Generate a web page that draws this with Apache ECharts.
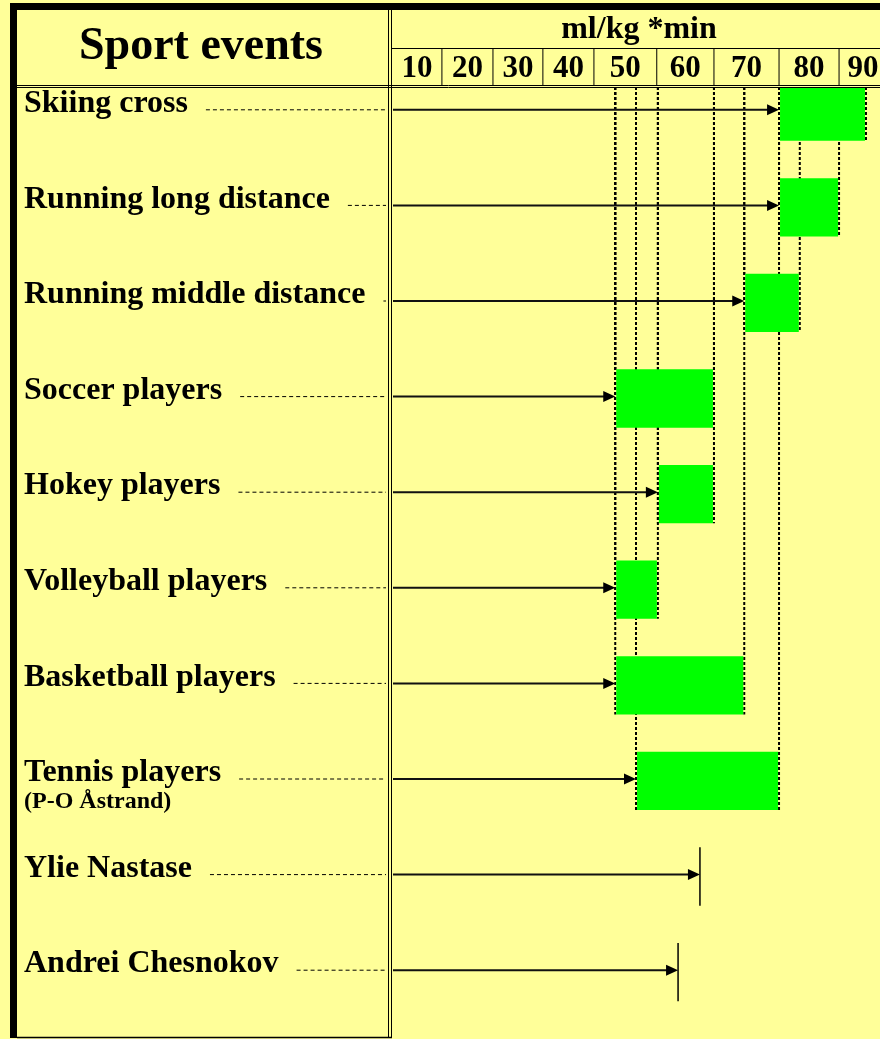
<!DOCTYPE html>
<html>
<head>
<meta charset="utf-8">
<title>Sport events</title>
<script src="https://cdn.jsdelivr.net/npm/echarts@6/dist/echarts.min.js"></script>
<style>
    html, body { margin: 0; padding: 0; background: #ffff99; }
    #main { width: 880px; height: 1039px; }
</style>
</head>
<body>
<div id="main"></div>
<script>
// rows, top to bottom
const events = ['Skiing cross', 'Running long distance', 'Running middle distance', 'Soccer players',
    'Hokey players', 'Volleyball players', 'Basketball players', 'Tennis players', 'Ylie Nastase', 'Andrei Chesnokov'];
// ml/kg*min, start and end of each range (one person: start == end)
const lowValues = [76.0, 76.0, 69.8, 46.8, 54.4, 46.8, 46.8, 50.5, 61.9, 58.0];
const highValues = [91.5, 86.7, 79.7, 64.4, 64.4, 54.4, 69.8, 76.0, 61.9, 58.0];
// header scale: cell labels and the cell borders as drawn
const tickLabels = ['10', '20', '30', '40', '50', '60', '70', '80', '90'];
const cellEdges = [7, 15.9, 25.0, 33.9, 43.0, 54.2, 64.4, 76.0, 86.7, 95.2];

const columnTitle = 'Sport events';
const unitTitle = 'ml/kg *min';
const tennisNote = '(P-O Åstrand)';

window.addEventListener('load', function () {
    const chart = echarts.init(document.getElementById('main'));

    const labelMargin = 368;
    const ctx = document.createElement('canvas').getContext('2d');
    ctx.font = 'bold 32px "Liberation Serif"';
    const labelWidths = events.map(name => ctx.measureText(name).width);

    const rows = events.map((name, i) => [lowValues[i], highValues[i], i]);
    const cells = tickLabels.map((t, i) => [cellEdges[i], cellEdges[i + 1], 0.5]);

    function renderRow(params, api) {
        const i = api.value(2);
        const lo = api.coord([api.value(0), i]);
        const hi = api.coord([api.value(1), i]);
        const band = api.size([0, 1])[1];
        const grid = params.coordSys;
        const y = lo[1];
        const mid = y + band * 0.02;
        const barTop = mid - band * 0.305;
        const barBottom = mid + band * 0.305;
        const children = [];

        // dashed leader after the label
        const textEnd = grid.x - labelMargin + labelWidths[i] + 18;
        if (textEnd < grid.x - 8) {
            children.push({
                type: 'line', z2: 1,
                shape: { x1: textEnd, y1: y, x2: grid.x - 6, y2: y },
                style: { stroke: '#000', lineWidth: 1, lineDash: [4, 3] }
            });
        }
        if (hi[0] > lo[0]) {
            [lo[0], hi[0]].forEach(function (x) {
                children.push({
                    type: 'line', z2: 2,
                    shape: { x1: x, y1: grid.y, x2: x, y2: barBottom },
                    style: { stroke: '#000', lineWidth: 2, lineDash: [3, 2] }
                });
            });
            children.push({
                type: 'rect', z2: 10,
                shape: { x: lo[0] + 1, y: barTop, width: hi[0] - lo[0] - 2, height: barBottom - barTop },
                style: { fill: '#00ff00' }
            });
        } else {
            children.push({
                type: 'line', z2: 20,
                shape: { x1: lo[0], y1: barTop, x2: lo[0], y2: barBottom },
                style: { stroke: '#000', lineWidth: 1.5 }
            });
        }
        // arrow from the column border to the start of the range
        children.push({
            type: 'line', z2: 20,
            shape: { x1: grid.x + 1, y1: y, x2: lo[0] - 8, y2: y },
            style: { stroke: '#111', lineWidth: 2 }
        });
        children.push({
            type: 'polygon', z2: 20,
            shape: { points: [[lo[0] - 12, y - 5.5], [lo[0], y], [lo[0] - 12, y + 5.5]] },
            style: { fill: '#000' }
        });
        return { type: 'group', children: children };
    }

    function renderCell(params, api) {
        const a = api.coord([api.value(0), api.value(2)]);
        const b = api.coord([api.value(1), api.value(2)]);
        const grid = params.coordSys;
        const children = [{
            type: 'text',
            style: {
                x: (a[0] + b[0]) / 2, y: a[1] + 2,
                text: tickLabels[params.dataIndex],
                fill: '#000', font: 'bold 31px "Liberation Serif"',
                align: 'center', verticalAlign: 'middle'
            }
        }];
        if (params.dataIndex < tickLabels.length - 1) {
            children.push({
                type: 'line',
                shape: { x1: b[0], y1: grid.y, x2: b[0], y2: grid.y + grid.height },
                style: { stroke: '#000', lineWidth: 1 }
            });
        }
        return { type: 'group', children: children };
    }

    const rule = (x1, y1, x2, y2, w) => ({
        type: 'line', z: 70, silent: true,
        shape: { x1: x1, y1: y1, x2: x2, y2: y2 },
        style: { stroke: '#000', lineWidth: w || 1 }
    });

    const option = {
        backgroundColor: '#ffff99',
        animation: false,
        grid: [
            { left: 392, right: 0, top: 62, bottom: 21 },
            { left: 392, right: 0, top: 48, height: 37 }
        ],
        xAxis: [
            { type: 'value', gridIndex: 0, min: 7, max: 94, show: false },
            { type: 'value', gridIndex: 1, min: 7, max: 94, show: false }
        ],
        yAxis: [
            {
                type: 'category', gridIndex: 0, data: events, inverse: true,
                axisLine: { show: false }, axisTick: { show: false }, splitLine: { show: false },
                axisLabel: {
                    interval: 0, margin: labelMargin, align: 'left', color: '#000',
                    fontFamily: 'Liberation Serif', fontWeight: 'bold', fontSize: 32,
                    padding: [0, 0, 12, 0],
                    formatter: function (name) {
                        if (name === 'Tennis players') {
                            return '{pad| }\n{main|' + name + '}\n{note|' + tennisNote + '}';
                        }
                        return name;
                    },
                    rich: {
                        pad: { fontSize: 24, lineHeight: 26 },
                        main: { fontFamily: 'Liberation Serif', fontWeight: 'bold', fontSize: 32, lineHeight: 32, color: '#000' },
                        note: { fontFamily: 'Liberation Serif', fontWeight: 'bold', fontSize: 24, lineHeight: 26, color: '#000' }
                    }
                }
            },
            { type: 'value', gridIndex: 1, min: 0, max: 1, show: false }
        ],
        graphic: [
            { type: 'rect', z: 50, silent: true, shape: { x: 17, y: 10, width: 863, height: 77 }, style: { fill: '#ffff99' } },
            { type: 'rect', z: 70, silent: true, shape: { x: 10, y: 3, width: 870, height: 7 }, style: { fill: '#000' } },
            { type: 'rect', z: 70, silent: true, shape: { x: 10, y: 3, width: 7, height: 1035 }, style: { fill: '#000' } },
            rule(17, 85.5, 880, 85.5),
            rule(17, 87.5, 880, 87.5),
            rule(388.5, 10, 388.5, 1038),
            rule(391.5, 10, 391.5, 1038),
            rule(392, 48.5, 880, 48.5),
            rule(17, 1037.5, 392, 1037.5, 1.5),
            {
                type: 'text', z: 70, silent: true,
                style: { x: 201, y: 47, text: columnTitle, fill: '#000', font: 'bold 46px "Liberation Serif"', align: 'center', verticalAlign: 'middle' }
            },
            {
                type: 'text', z: 70, silent: true,
                style: { x: 639, y: 30, text: unitTitle, fill: '#000', font: 'bold 32px "Liberation Serif"', align: 'center', verticalAlign: 'middle' }
            }
        ],
        series: [
            {
                type: 'custom', xAxisIndex: 0, yAxisIndex: 0, z: 2,
                renderItem: renderRow, data: rows
            },
            {
                type: 'custom', xAxisIndex: 1, yAxisIndex: 1, z: 60,
                renderItem: renderCell, data: cells
            }
        ]
    };
    chart.setOption(option);
});
</script>
</body>
</html>
